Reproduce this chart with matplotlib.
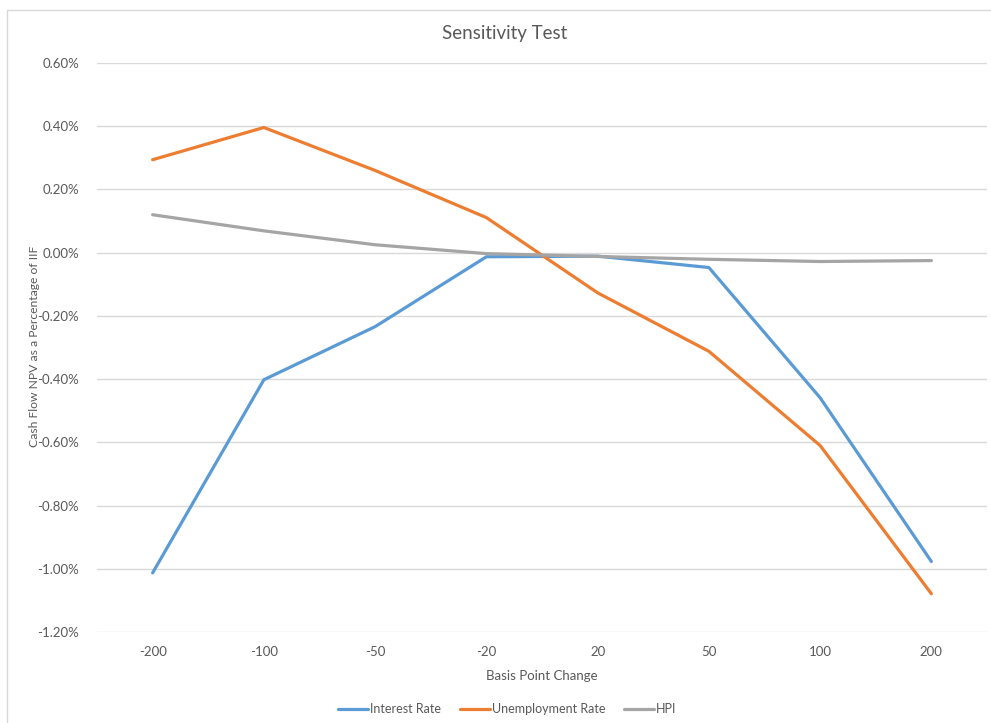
import matplotlib.pyplot as plt
from matplotlib.patches import Rectangle
from matplotlib.ticker import FuncFormatter

# Daten
categories = ["-200", "-100", "-50", "-20", "20", "50", "100", "200"]
interest_rate = [-1.013, -0.402, -0.234, -0.013, -0.011, -0.047, -0.459, -0.977]
unemployment_rate = [0.294, 0.396, 0.260, 0.111, -0.127, -0.312, -0.610, -1.079]
hpi = [0.120, 0.069, 0.025, -0.003, -0.012, -0.021, -0.028, -0.025]
y_ticks = [-1.2, -1.0, -0.8, -0.6, -0.4, -0.2, 0.0, 0.2, 0.4, 0.6]

plt.rcParams['font.family'] = ['Lato', 'DejaVu Sans']
textcol = '#595959'

fig = plt.figure(figsize=(9.91, 7.23), dpi=100)
W, H = 991, 723
ax = fig.add_axes([97 / W, 1 - 632 / H, (987 - 97) / W, (632 - 63) / H])

# Rahmen des Diagramms
fig.patches.append(Rectangle((7 / W, -0.01), 1.0, 1 - 10 / H + 0.01, transform=fig.transFigure,
                             fill=False, edgecolor='#d9d9d9', linewidth=1))

x = range(len(categories))
ax.plot(x, interest_rate, color='#5B9BD5', lw=2.3, label='Interest Rate', solid_capstyle='round')
ax.plot(x, unemployment_rate, color='#ED7D31', lw=2.3, label='Unemployment Rate', solid_capstyle='round')
ax.plot(x, hpi, color='#A5A5A5', lw=2.3, label='HPI', solid_capstyle='round')

ax.set_xlim(-0.5, len(categories) - 0.5)
ax.set_ylim(-1.2, 0.6)
ax.set_yticks(y_ticks)
ax.yaxis.set_major_formatter(FuncFormatter(lambda v, p: f"{v:.2f}%"))
ax.set_xticks(list(x))
ax.set_xticklabels(categories)
ax.grid(axis='y', color='#d9d9d9', lw=1)
ax.set_axisbelow(True)
for s in ax.spines.values():
    s.set_visible(False)
ax.tick_params(length=0, labelsize=9.5, labelcolor=textcol)
ax.tick_params(axis='y', pad=13)
ax.tick_params(axis='x', pad=10)

ax.set_xlabel('Basis Point Change', fontsize=9.5, color=textcol)
ax.set_ylabel('Cash Flow NPV as a Percentage of IIF', fontsize=8.7, color=textcol)
ax.xaxis.set_label_coords((542 - 97) / 890, -(670 - 632) / 569)
ax.yaxis.set_label_coords((40 - 97) / 890, (632 - 346) / 569)
fig.text(505 / W, 1 - 34 / H, 'Sensitivity Test', ha='center', va='center', fontsize=13.5, color=textcol)

fig.legend(loc='center', bbox_to_anchor=(507 / W, 1 - 709 / H), ncol=3, frameon=False,
           fontsize=9, labelcolor=textcol, handlelength=2.4, handletextpad=0.15, columnspacing=1.5)

fig.savefig('out.png', dpi=100)
